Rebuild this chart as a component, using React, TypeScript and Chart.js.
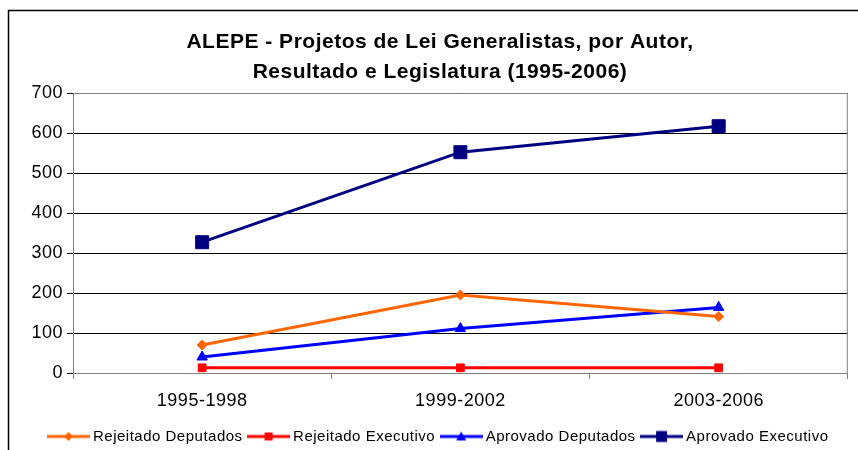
import React, { useEffect, useRef } from 'react';
import { Chart, registerables } from 'chart.js';

Chart.register(...registerables);

// ---- data ----
const categories = ['1995-1998', '1999-2002', '2003-2006'];
const rejeitadoDeputados = [70, 195, 141];
const rejeitadoExecutivo = [13, 13, 13];
const aprovadoDeputados = [40, 111, 164];
const aprovadoExecutivo = [327, 552, 617];
const seriesNames = ['Rejeitado Deputados', 'Rejeitado Executivo', 'Aprovado Deputados', 'Aprovado Executivo'];
const titleLines = ['ALEPE - Projetos de Lei Generalistas, por Autor,', 'Resultado e Legislatura (1995-2006)'];
const yMin = 0;
const yMax = 700;
const yStep = 100;

const FONT = '"Liberation Sans", Arial, Helvetica, sans-serif';
const SPACING = '0.5px';

function makeLegendImage(color: string, shape: string, size: number) {
  const c = document.createElement('canvas');
  c.width = 43;
  c.height = 14;
  const g = c.getContext('2d')!;
  g.strokeStyle = color;
  g.lineWidth = 3;
  g.beginPath();
  g.moveTo(0, 7);
  g.lineTo(43, 7);
  g.stroke();
  g.fillStyle = color;
  const cx = 21.5;
  const cy = 7;
  g.beginPath();
  if (shape === 'diamond') {
    g.moveTo(cx, cy - size);
    g.lineTo(cx + size, cy);
    g.lineTo(cx, cy + size);
    g.lineTo(cx - size, cy);
    g.closePath();
  } else if (shape === 'square') {
    g.rect(cx - size, cy - size, size * 2, size * 2);
  } else {
    g.moveTo(cx, cy - size);
    g.lineTo(cx + size, cy + size * 0.8);
    g.lineTo(cx - size, cy + size * 0.8);
    g.closePath();
  }
  g.fill();
  return c;
}

const spacingPlugin = {
  id: 'letterSpacing',
  beforeUpdate(chart: any) {
    (chart.ctx as any).letterSpacing = SPACING;
  },
  beforeLayout(chart: any) {
    (chart.ctx as any).letterSpacing = SPACING;
  },
  beforeDraw(chart: any) {
    (chart.ctx as any).letterSpacing = SPACING;
  },
};

const framePlugin = {
  id: 'frames',
  beforeDatasetsDraw(chart: any) {
    const { ctx, chartArea } = chart;
    ctx.save();
    ctx.strokeStyle = '#808080';
    ctx.lineWidth = 1;
    ctx.beginPath();
    ctx.moveTo(chartArea.left, chartArea.top + 0.5);
    ctx.lineTo(chartArea.right, chartArea.top + 0.5);
    ctx.moveTo(chartArea.right - 0.5, chartArea.top);
    ctx.lineTo(chartArea.right - 0.5, chartArea.bottom);
    ctx.stroke();
    ctx.restore();
  },
  afterDraw(chart: any) {
    const { ctx } = chart;
    ctx.save();
    ctx.strokeStyle = '#000';
    ctx.lineWidth = 1.5;
    ctx.beginPath();
    ctx.moveTo(8.5, chart.height + 5);
    ctx.lineTo(8.5, 10.5);
    ctx.lineTo(chart.width + 5, 10.5);
    ctx.stroke();
    ctx.restore();
  },
};

export default function App() {
  const ref = useRef<HTMLCanvasElement>(null);

  useEffect(() => {
    if (!ref.current) return;
    Chart.defaults.font.family = FONT;
    Chart.defaults.color = '#000';

    const legendImages = [
      makeLegendImage('#FF6600', 'diamond', 4.5),
      makeLegendImage('#FF0000', 'square', 4),
      makeLegendImage('#0000FF', 'triangle', 5),
      makeLegendImage('#000080', 'square', 5.5),
    ];

    const chart = new Chart(ref.current, {
      type: 'line',
      data: {
        labels: categories,
        datasets: [
          {
            label: seriesNames[0],
            data: rejeitadoDeputados,
            borderColor: '#FF6600',
            backgroundColor: '#FF6600',
            pointStyle: 'rectRot',
            pointRadius: 5,
            pointHoverRadius: 5,
          },
          {
            label: seriesNames[1],
            data: rejeitadoExecutivo,
            borderColor: '#FF0000',
            backgroundColor: '#FF0000',
            pointStyle: 'rect',
            pointRadius: 5.5,
            pointHoverRadius: 5.5,
          },
          {
            label: seriesNames[2],
            data: aprovadoDeputados,
            borderColor: '#0000FF',
            backgroundColor: '#0000FF',
            pointStyle: 'triangle',
            pointRadius: 6,
            pointHoverRadius: 6,
          },
          {
            label: seriesNames[3],
            data: aprovadoExecutivo,
            borderColor: '#000080',
            backgroundColor: '#000080',
            pointStyle: 'rect',
            pointRadius: 9.2,
            pointHoverRadius: 9.2,
          },
        ],
      },
      options: {
        responsive: false,
        animation: false,
        events: [],
        layout: { padding: { left: 24, right: 2, top: 0, bottom: 0 } },
        elements: {
          line: { borderWidth: 3, tension: 0, fill: false },
          point: { borderWidth: 1 },
        },
        scales: {
          x: {
            type: 'category',
            offset: true,
            grid: {
              display: true,
              drawOnChartArea: false,
              drawTicks: true,
              tickLength: 6,
              color: '#808080',
              offset: true,
            },
            border: { display: true, color: '#808080', width: 1 },
            ticks: {
              font: { size: 18 },
              color: '#000',
              padding: 11,
              maxRotation: 0,
              autoSkip: false,
            },
            afterFit: (s: any) => {
              s.height = 47;
            },
          },
          y: {
            min: yMin,
            max: yMax,
            ticks: {
              stepSize: yStep,
              font: { size: 18 },
              color: '#000',
              padding: 4,
            },
            grid: { color: '#000', tickLength: 6, drawTicks: true, lineWidth: 1 },
            border: { display: true, color: '#808080', width: 1 },
            afterFit: (s: any) => {
              s.width = 49;
            },
          },
        },
        plugins: {
          tooltip: { enabled: false },
          title: {
            display: true,
            text: titleLines,
            color: '#000',
            font: { size: 21, weight: 'bold', lineHeight: '30px' } as any,
            padding: { top: 27, bottom: 6 },
          },
          legend: {
            display: true,
            position: 'bottom',
            labels: {
              usePointStyle: true,
              pointStyleWidth: 34,
              padding: 9,
              color: '#000',
              font: { size: 15 },
              generateLabels: (ch: any) =>
                ch.data.datasets.map((ds: any, i: number) => ({
                  text: ds.label,
                  pointStyle: legendImages[i],
                  fillStyle: ds.borderColor,
                  strokeStyle: ds.borderColor,
                  lineWidth: 0,
                  hidden: false,
                  datasetIndex: i,
                  fontColor: '#000',
                })),
            },
          },
        },
      },
      plugins: [spacingPlugin, framePlugin],
    } as any);

    return () => chart.destroy();
  }, []);

  return (
    <div style={{ position: 'absolute', left: 0, top: 0, width: 858, height: 450, overflow: 'hidden', background: '#fff' }}>
      <canvas ref={ref} width={858} height={454} style={{ display: 'block' }} />
    </div>
  );
}
